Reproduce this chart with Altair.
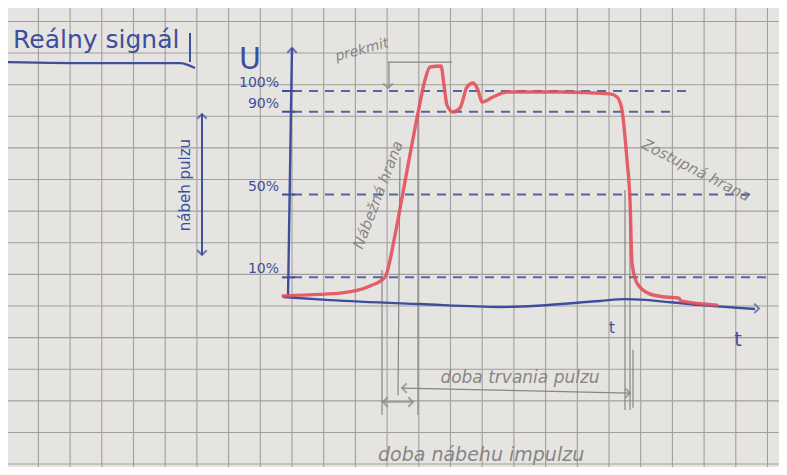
import altair as alt
import pandas as pd

# --- values (t = time units, p = level in %) ---
sig_t = [-0.5, 1.2, 5.2, 8.2, 9.7, 10.7, 11.5, 13.0, 13.7, 14.2, 15.3, 15.6, 15.9,
         16.5, 17.2, 17.9, 18.5, 19.0, 19.4, 20.5, 21.9, 27.2, 32.2, 32.9, 33.4,
         33.9, 34.2, 34.4, 34.9, 36.0, 37.7, 39.1, 39.3, 42.9]
sig_p = [1.0, 1.4, 2.4, 5.8, 10.1, 30.4, 51.0, 89.4, 105.3, 111.6, 112.1, 102.9,
         93.2, 89.9, 91.8, 101.9, 103.9, 100.5, 94.7, 97.1, 99.5, 99.5, 98.6, 97.1,
         90.8, 66.7, 47.3, 16.9, 7.2, 2.4, 0.5, 0.0, -1.4, -3.4]

base_t = [-0.5, 4.2, 13.2, 21.2, 31.2, 33.7, 41.2, 46.7]
base_p = [0.5, -1.0, -2.9, -4.3, -1.4, -0.5, -3.4, -5.3]

levels = [100, 90, 50, 10]
level_labels = ["100%", "90%", "50%", "10%"]
level_end = [40.2, 38.5, 46.5, 48.5]

# pencil helper lines: x, x2, y, y2
pencil_x = [9.4, 11.2, 13.0, 33.7, 34.2, 34.5, 10.0, 10.1, 11.4, 9.5]
pencil_x2 = [9.4, 11.0, 13.0, 33.7, 34.2, 34.5, 16.4, 10.1, 34.2, 12.5]
pencil_y = [13.5, 68.1, 89.4, 52.2, 49.8, -25.0, 114.0, 114.0, -43.5, -50.2]
pencil_y2 = [-56.5, -46.9, -56.5, -54.1, -54.1, -53.0, 114.0, 101.4, -45.9, -50.2]

notes = ["prekmit", "Nábežná hrana", "Zostupná hrana", "doba trvania pulzu", "doba nábehu impulzu"]
note_t = [7.4, 9.0, 40.8, 23.2, 9.0]
note_p = [119.8, 49.8, 61.8, -38.6, -75.8]
note_angle = [345, 291, 27, 0, 0]
note_size = [14, 15, 15, 17, 19]
note_align = ["center", "center", "center", "center", "left"]

# paper grid (square cells of the exercise book)
paper_x = [-28.13 + 3.17 * k for k in range(26)]
paper_y = [133.6 - 15.27 * k for k in range(15)]

BLUE = "#3d4f9c"
RED = "#e4505c"
PENCIL = "#868686"
FONT = "DejaVu Sans"

X = alt.Scale(domain=[-28, 49.1], nice=False, zero=False)
Y = alt.Scale(domain=[-81.6, 140.1], nice=False, zero=False)


def xq(f):
    return alt.X(f, type="quantitative", scale=X, axis=None)


def yq(f):
    return alt.Y(f, type="quantitative", scale=Y, axis=None)


grid_v = alt.Chart(pd.DataFrame({"t": paper_x})).mark_rule(color="#a09f9d", strokeWidth=1.1).encode(x=xq("t"))
grid_h = alt.Chart(pd.DataFrame({"p": paper_y})).mark_rule(color="#a09f9d", strokeWidth=1.1).encode(y=yq("p"))

lev = pd.DataFrame({"p": levels, "lab": level_labels, "t0": [0.5] * 4, "t1": level_end,
                    "k0": [-0.6] * 4, "k1": [0.7] * 4, "lx": [-0.9] * 4})
dashed = alt.Chart(lev).mark_rule(color=BLUE, strokeWidth=2, strokeDash=[9, 7], opacity=0.85).encode(
    x=xq("t0"), x2="t1", y=yq("p"))
ticks = alt.Chart(lev).mark_rule(color=BLUE, strokeWidth=2).encode(x=xq("k0"), x2="k1", y=yq("p"))
tick_text = alt.Chart(lev).mark_text(color=BLUE, font=FONT, fontSize=14, align="right", dy=-8).encode(
    x=xq("lx"), y=yq("p"), text="lab")

# axes drawn by hand
yaxis = alt.Chart(pd.DataFrame({"t": [0.0, 0.4], "p": [0.0, 120.8]})).mark_line(
    color=BLUE, strokeWidth=2.4).encode(x=xq("t"), y=yq("p"))
xaxis = alt.Chart(pd.DataFrame({"t": base_t, "p": base_p})).mark_line(
    color=BLUE, strokeWidth=2.4, interpolate="monotone").encode(x=xq("t"), y=yq("p"))

chevron = "M-1,1L0,0L1,1"
heads = pd.DataFrame({
    "t": [0.4, 47.1, -8.6, -8.6, 10.0, 11.4, 34.2, 9.5, 12.5],
    "p": [120.8, -5.0, 88.9, 20.8, 101.4, -43.5, -45.9, -50.2, -50.2],
    "a": [0, 90, 0, 180, 180, 270, 90, 270, 90],
    "c": ["b", "b", "b", "b", "g", "g", "g", "g", "g"],
})
arrows = alt.Chart(heads).mark_point(shape=chevron, filled=False, size=90, strokeWidth=2).encode(
    x=xq("t"), y=yq("p"), angle=alt.Angle("a:Q", scale=None),
    color=alt.Color("c:N", scale=alt.Scale(domain=["b", "g"], range=[BLUE, PENCIL]), legend=None))

amp = alt.Chart(pd.DataFrame({"t": [-8.6, -8.6], "p": [88.9, 20.8]})).mark_line(
    color=BLUE, strokeWidth=2).encode(x=xq("t"), y=yq("p"))
amp_text = alt.Chart(pd.DataFrame({"t": [-10.3], "p": [54.6], "s": ["nábeh pulzu"]})).mark_text(
    color=BLUE, font=FONT, fontSize=15, angle=270).encode(x=xq("t"), y=yq("p"), text="s")

pen = pd.DataFrame({"x": pencil_x, "x2": pencil_x2, "y": pencil_y, "y2": pencil_y2})
pencil = alt.Chart(pen).mark_rule(color=PENCIL, strokeWidth=1.2).encode(x=xq("x"), x2="x2", y=yq("y"), y2="y2")

nt = pd.DataFrame({"t": note_t, "p": note_p, "s": notes})
note_text = alt.layer(
    *[alt.Chart(nt.iloc[[i]]).mark_text(color=PENCIL, font=FONT, fontStyle="italic",
                                        angle=note_angle[i], fontSize=note_size[i], align=note_align[i])
      .encode(x=xq("t"), y=yq("p"), text="s") for i in range(len(notes))])

signal = alt.Chart(pd.DataFrame({"t": sig_t, "p": sig_p})).mark_line(
    color=RED, strokeWidth=3.4, strokeJoin="round", strokeCap="round", opacity=0.9,
    interpolate="monotone").encode(x=xq("t"), y=yq("p"))

# title, axis name and time marks
title = alt.Chart(pd.DataFrame({"t": [-27.5], "p": [118.5], "s": ["Reálny signál"]})).mark_text(
    color=BLUE, font=FONT, fontSize=25, align="left", baseline="bottom").encode(x=xq("t"), y=yq("p"), text="s")
underline = alt.Chart(pd.DataFrame({"t": [-28, -18.8, -10.8, -9.3], "p": [114, 113.5, 113.5, 111.1]})).mark_line(
    color=BLUE, strokeWidth=2.2, interpolate="monotone").encode(x=xq("t"), y=yq("p"))
bar = alt.Chart(pd.DataFrame({"t": [-9.8], "p": [114], "p2": [128]})).mark_rule(
    color=BLUE, strokeWidth=2).encode(x=xq("t"), y=yq("p"), y2="p2")
lbl_s = ["U", "t", "t"]
lbl_t = [-3.8, 32.4, 45.0]
lbl_p = [114.9, -14.5, -20.3]
lbl_z = [30, 15, 19]
lbls = pd.DataFrame({"t": lbl_t, "p": lbl_p, "s": lbl_s})
small = alt.layer(*[alt.Chart(lbls.iloc[[i]]).mark_text(color=BLUE, font=FONT, fontSize=lbl_z[i])
                    .encode(x=xq("t"), y=yq("p"), text="s") for i in range(len(lbl_s))])

chart = alt.layer(
    grid_v, grid_h, pencil, note_text, dashed, ticks, tick_text, yaxis, xaxis, amp, amp_text,
    arrows, signal, title, underline, bar, small,
).properties(width=771, height=459, padding=0, autosize="none").configure(
    background="#e6e4e1").configure_view(stroke=None)

chart.save("out.html", embed_options={"renderer": "svg", "actions": False})
